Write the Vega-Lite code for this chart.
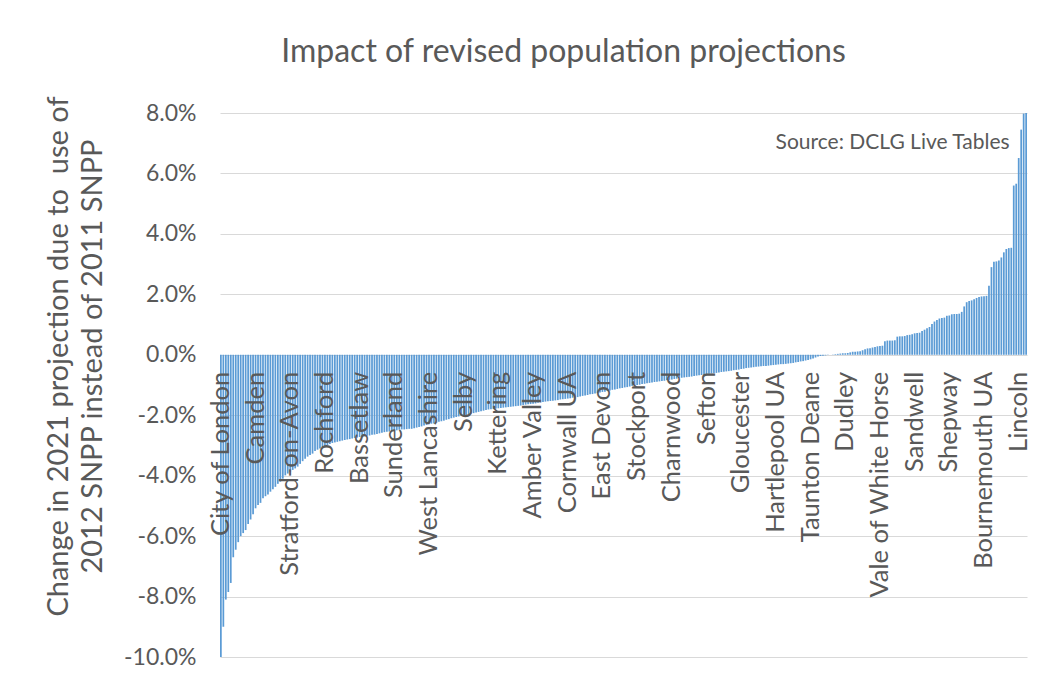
{
"$schema": "https://vega.github.io/schema/vega-lite/v6.json",
"width": 807, "height": 544,
"autosize": {"type": "none"},
"padding": {"left": 220, "top": 113, "right": 29, "bottom": 17},
"background": "white",
"config": {"view": {"stroke": null}, "font": "Lato"},
"title": {"text": "Impact of revised population projections", "font": "Lato", "fontSize": 32, "fontWeight": "normal", "color": "#595959", "anchor": "middle", "frame": "group", "dx": -60, "offset": 27},
"data": {"values": [
{"r":0,"v":-10.0,"la":"City of London"},{"r":1,"v":-9.0},{"r":2,"v":-8.1},{"r":3,"v":-7.85},{"r":4,"v":-7.55},{"r":5,"v":-6.7},{"r":6,"v":-6.45},{"r":7,"v":-6.2},{"r":8,"v":-6.0},{"r":9,"v":-5.9},
{"r":10,"v":-5.8},{"r":11,"v":-5.6},{"r":12,"v":-5.45},{"r":13,"v":-5.28},{"r":14,"v":-5.08,"la":"Camden"},{"r":15,"v":-4.97},{"r":16,"v":-4.9},{"r":17,"v":-4.75},{"r":18,"v":-4.68},{"r":19,"v":-4.62},
{"r":20,"v":-4.53},{"r":21,"v":-4.45},{"r":22,"v":-4.37},{"r":23,"v":-4.27},{"r":24,"v":-4.2},{"r":25,"v":-4.1},{"r":26,"v":-3.99},{"r":27,"v":-3.93},{"r":28,"v":-3.87,"la":"Stratford-on-Avon"},{"r":29,"v":-3.81},
{"r":30,"v":-3.76},{"r":31,"v":-3.7},{"r":32,"v":-3.61},{"r":33,"v":-3.52},{"r":34,"v":-3.44},{"r":35,"v":-3.37},{"r":36,"v":-3.32},{"r":37,"v":-3.27},{"r":38,"v":-3.18},{"r":39,"v":-3.14},
{"r":40,"v":-3.1},{"r":41,"v":-3.06},{"r":42,"v":-3.03,"la":"Rochford"},{"r":43,"v":-2.99},{"r":44,"v":-2.95},{"r":45,"v":-2.92},{"r":46,"v":-2.9},{"r":47,"v":-2.88},{"r":48,"v":-2.86},{"r":49,"v":-2.84},
{"r":50,"v":-2.82},{"r":51,"v":-2.8},{"r":52,"v":-2.79},{"r":53,"v":-2.77},{"r":54,"v":-2.75},{"r":55,"v":-2.74},{"r":56,"v":-2.72,"la":"Bassetlaw"},{"r":57,"v":-2.71},{"r":58,"v":-2.7},{"r":59,"v":-2.68},
{"r":60,"v":-2.67},{"r":61,"v":-2.65},{"r":62,"v":-2.64},{"r":63,"v":-2.62},{"r":64,"v":-2.6},{"r":65,"v":-2.58},{"r":66,"v":-2.56},{"r":67,"v":-2.55},{"r":68,"v":-2.54},{"r":69,"v":-2.52},
{"r":70,"v":-2.51,"la":"Sunderland"},{"r":71,"v":-2.5},{"r":72,"v":-2.48},{"r":73,"v":-2.47},{"r":74,"v":-2.47},{"r":75,"v":-2.46},{"r":76,"v":-2.45},{"r":77,"v":-2.45},{"r":78,"v":-2.43},{"r":79,"v":-2.41},
{"r":80,"v":-2.39},{"r":81,"v":-2.37},{"r":82,"v":-2.34},{"r":83,"v":-2.32},{"r":84,"v":-2.3,"la":"West Lancashire"},{"r":85,"v":-2.28},{"r":86,"v":-2.27},{"r":87,"v":-2.25},{"r":88,"v":-2.22},{"r":89,"v":-2.2},
{"r":90,"v":-2.18},{"r":91,"v":-2.15},{"r":92,"v":-2.13},{"r":93,"v":-2.1},{"r":94,"v":-2.08},{"r":95,"v":-2.06},{"r":96,"v":-2.04},{"r":97,"v":-2.02},{"r":98,"v":-2.01,"la":"Selby"},{"r":99,"v":-1.99},
{"r":100,"v":-1.97},{"r":101,"v":-1.95},{"r":102,"v":-1.93},{"r":103,"v":-1.91},{"r":104,"v":-1.89},{"r":105,"v":-1.87},{"r":106,"v":-1.85},{"r":107,"v":-1.83},{"r":108,"v":-1.81},{"r":109,"v":-1.8},
{"r":110,"v":-1.79},{"r":111,"v":-1.78},{"r":112,"v":-1.77,"la":"Kettering"},{"r":113,"v":-1.76},{"r":114,"v":-1.75},{"r":115,"v":-1.74},{"r":116,"v":-1.73},{"r":117,"v":-1.72},{"r":118,"v":-1.71},{"r":119,"v":-1.7},
{"r":120,"v":-1.69},{"r":121,"v":-1.68},{"r":122,"v":-1.66},{"r":123,"v":-1.65},{"r":124,"v":-1.64},{"r":125,"v":-1.63},{"r":126,"v":-1.62,"la":"Amber Valley"},{"r":127,"v":-1.61},{"r":128,"v":-1.59},{"r":129,"v":-1.58},
{"r":130,"v":-1.56},{"r":131,"v":-1.55},{"r":132,"v":-1.54},{"r":133,"v":-1.53},{"r":134,"v":-1.52},{"r":135,"v":-1.51},{"r":136,"v":-1.5},{"r":137,"v":-1.48},{"r":138,"v":-1.47},{"r":139,"v":-1.46},
{"r":140,"v":-1.45,"la":"Cornwall UA"},{"r":141,"v":-1.44},{"r":142,"v":-1.42},{"r":143,"v":-1.41},{"r":144,"v":-1.4},{"r":145,"v":-1.38},{"r":146,"v":-1.36},{"r":147,"v":-1.35},{"r":148,"v":-1.33},{"r":149,"v":-1.31},
{"r":150,"v":-1.3},{"r":151,"v":-1.28},{"r":152,"v":-1.27},{"r":153,"v":-1.25},{"r":154,"v":-1.23,"la":"East Devon"},{"r":155,"v":-1.22},{"r":156,"v":-1.2},{"r":157,"v":-1.18},{"r":158,"v":-1.16},{"r":159,"v":-1.15},
{"r":160,"v":-1.13},{"r":161,"v":-1.11},{"r":162,"v":-1.1},{"r":163,"v":-1.08},{"r":164,"v":-1.07},{"r":165,"v":-1.05},{"r":166,"v":-1.03},{"r":167,"v":-1.02},{"r":168,"v":-1.0,"la":"Stockport"},{"r":169,"v":-0.99},
{"r":170,"v":-0.97},{"r":171,"v":-0.96},{"r":172,"v":-0.94},{"r":173,"v":-0.93},{"r":174,"v":-0.92},{"r":175,"v":-0.9},{"r":176,"v":-0.89},{"r":177,"v":-0.88},{"r":178,"v":-0.87},{"r":179,"v":-0.86},
{"r":180,"v":-0.84},{"r":181,"v":-0.83},{"r":182,"v":-0.82,"la":"Charnwood"},{"r":183,"v":-0.8},{"r":184,"v":-0.79},{"r":185,"v":-0.77},{"r":186,"v":-0.76},{"r":187,"v":-0.75},{"r":188,"v":-0.74},{"r":189,"v":-0.73},
{"r":190,"v":-0.72},{"r":191,"v":-0.7},{"r":192,"v":-0.69},{"r":193,"v":-0.68},{"r":194,"v":-0.67},{"r":195,"v":-0.66},{"r":196,"v":-0.65,"la":"Sefton"},{"r":197,"v":-0.63},{"r":198,"v":-0.62},{"r":199,"v":-0.61},
{"r":200,"v":-0.6},{"r":201,"v":-0.59},{"r":202,"v":-0.57},{"r":203,"v":-0.56},{"r":204,"v":-0.55},{"r":205,"v":-0.54},{"r":206,"v":-0.53},{"r":207,"v":-0.51},{"r":208,"v":-0.5},{"r":209,"v":-0.49},
{"r":210,"v":-0.47,"la":"Gloucester"},{"r":211,"v":-0.46},{"r":212,"v":-0.44},{"r":213,"v":-0.43},{"r":214,"v":-0.42},{"r":215,"v":-0.41},{"r":216,"v":-0.4},{"r":217,"v":-0.39},{"r":218,"v":-0.38},{"r":219,"v":-0.37},
{"r":220,"v":-0.37},{"r":221,"v":-0.36},{"r":222,"v":-0.35},{"r":223,"v":-0.34},{"r":224,"v":-0.33,"la":"Hartlepool UA"},{"r":225,"v":-0.32},{"r":226,"v":-0.31},{"r":227,"v":-0.31},{"r":228,"v":-0.3},{"r":229,"v":-0.29},
{"r":230,"v":-0.28},{"r":231,"v":-0.27},{"r":232,"v":-0.25},{"r":233,"v":-0.24},{"r":234,"v":-0.22},{"r":235,"v":-0.21},{"r":236,"v":-0.19},{"r":237,"v":-0.17},{"r":238,"v":-0.15,"la":"Taunton Deane"},{"r":239,"v":-0.12},
{"r":240,"v":-0.09},{"r":241,"v":-0.06},{"r":242,"v":-0.04},{"r":243,"v":-0.03},{"r":244,"v":-0.02},{"r":245,"v":-0.01},{"r":246,"v":0.0},{"r":247,"v":0.01},{"r":248,"v":0.02},{"r":249,"v":0.03},
{"r":250,"v":0.04},{"r":251,"v":0.05},{"r":252,"v":0.05,"la":"Dudley"},{"r":253,"v":0.06},{"r":254,"v":0.08},{"r":255,"v":0.1},{"r":256,"v":0.1},{"r":257,"v":0.11},{"r":258,"v":0.12},{"r":259,"v":0.15},
{"r":260,"v":0.18},{"r":261,"v":0.21},{"r":262,"v":0.22},{"r":263,"v":0.24},{"r":264,"v":0.26},{"r":265,"v":0.28},{"r":266,"v":0.29,"la":"Vale of White Horse"},{"r":267,"v":0.3},{"r":268,"v":0.45},{"r":269,"v":0.47},
{"r":270,"v":0.47},{"r":271,"v":0.47},{"r":272,"v":0.48},{"r":273,"v":0.6},{"r":274,"v":0.61},{"r":275,"v":0.61},{"r":276,"v":0.62},{"r":277,"v":0.65},{"r":278,"v":0.66},{"r":279,"v":0.68},
{"r":280,"v":0.71,"la":"Sandwell"},{"r":281,"v":0.72},{"r":282,"v":0.73},{"r":283,"v":0.79},{"r":284,"v":0.83},{"r":285,"v":0.88},{"r":286,"v":0.92},{"r":287,"v":1.02},{"r":288,"v":1.1},{"r":289,"v":1.15},
{"r":290,"v":1.2},{"r":291,"v":1.22},{"r":292,"v":1.23},{"r":293,"v":1.29},{"r":294,"v":1.3,"la":"Shepway"},{"r":295,"v":1.34},{"r":296,"v":1.35},{"r":297,"v":1.35},{"r":298,"v":1.36},{"r":299,"v":1.42},
{"r":300,"v":1.6},{"r":301,"v":1.74},{"r":302,"v":1.78},{"r":303,"v":1.8},{"r":304,"v":1.84},{"r":305,"v":1.88},{"r":306,"v":1.91},{"r":307,"v":1.93},{"r":308,"v":1.94,"la":"Bournemouth UA"},{"r":309,"v":1.95},
{"r":310,"v":2.28},{"r":311,"v":2.9},{"r":312,"v":3.08},{"r":313,"v":3.09},{"r":314,"v":3.12},{"r":315,"v":3.22},{"r":316,"v":3.39},{"r":317,"v":3.5},{"r":318,"v":3.53},{"r":319,"v":3.54},
{"r":320,"v":5.6},{"r":321,"v":5.66},{"r":322,"v":6.51,"la":"Lincoln"},{"r":323,"v":7.45},{"r":324,"v":7.98},{"r":325,"v":8.0}
]},
"layer": [
{"mark": {"type": "bar", "color": "#5B9BD5", "clip": true},
 "encoding": {
  "x": {"field": "r", "type": "ordinal", "axis": null, "scale": {"paddingInner": 0.3, "paddingOuter": 0}},
  "y": {"field": "v", "type": "quantitative", "scale": {"domain": [-10, 8], "nice": false},
   "axis": {"title": ["Change in 2021 projection due to\u00a0 use of", "2012 SNPP instead of 2011 SNPP"],
    "titleFont": "Lato", "titleFontSize": 29, "titleFontWeight": "normal", "titleColor": "#595959",
    "titleLineHeight": 34, "titleX": -162, "titleY": 243, "titleBaseline": "middle", "titleAngle": 270, "titleAlign": "center",
    "values": [-10, -8, -6, -4, -2, 0, 2, 4, 6, 8],
    "labelExpr": "(datum.value < 0 ? '-' : '') + format(abs(datum.value), '.1f') + '%'",
    "labelFont": "Lato", "labelFontSize": 23, "labelColor": "#595959", "labelPadding": 24,
    "domain": false, "ticks": false, "grid": true, "gridColor": "#D9D9D9", "gridWidth": 1}}
 }},
{"transform": [{"filter": "datum.la"}],
 "mark": {"type": "text", "angle": 270, "align": "right", "baseline": "middle", "dx": -17, "font": "Lato", "fontSize": 25.5, "color": "#595959"},
 "encoding": {
  "x": {"field": "r", "type": "ordinal"},
  "y": {"datum": 0, "type": "quantitative"},
  "text": {"field": "la"}
 }},
{"data": {"values": [{"s": "Source: DCLG Live Tables"}]},
 "mark": {"type": "text", "align": "right", "baseline": "middle", "font": "Lato", "fontSize": 21, "color": "#595959"},
 "encoding": {
  "x": {"datum": 318, "type": "ordinal", "bandPosition": 1},
  "y": {"datum": 7.0, "type": "quantitative"},
  "text": {"field": "s"}
 }}
]
}
